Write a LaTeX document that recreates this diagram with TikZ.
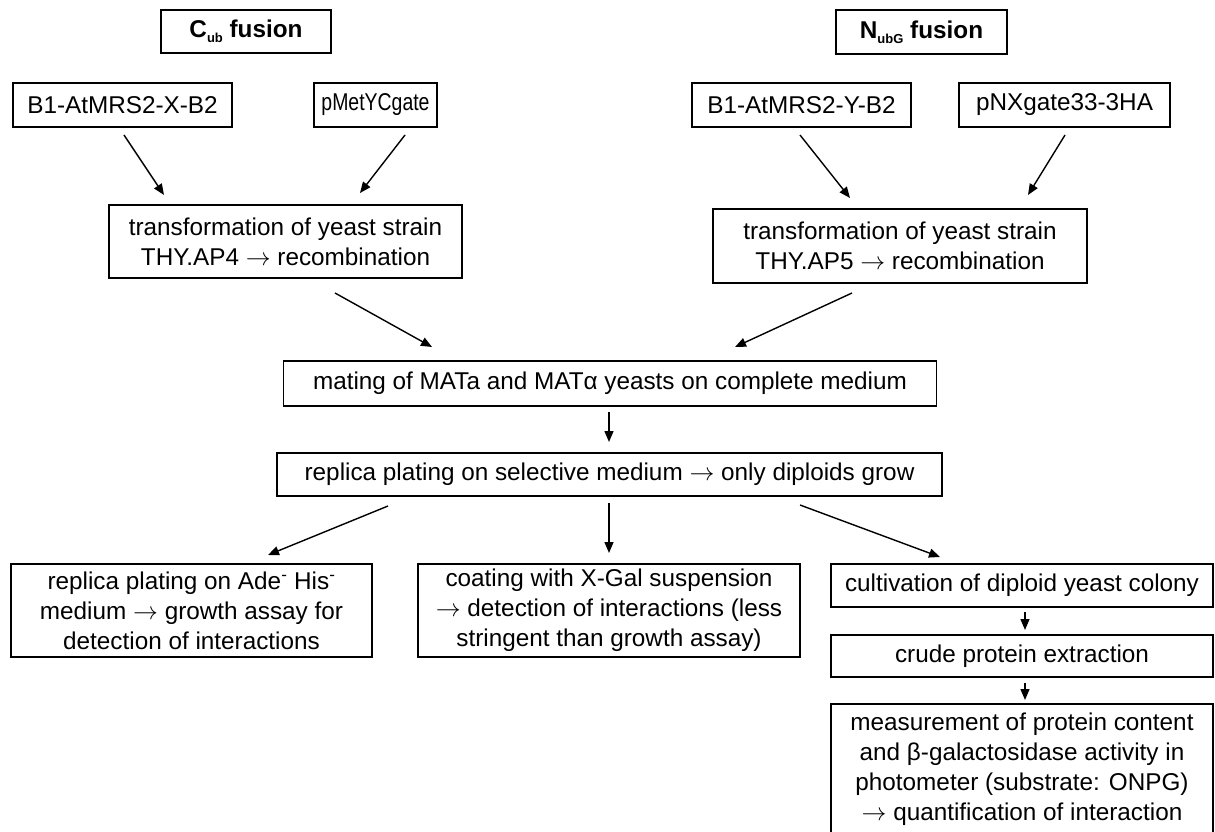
\documentclass[tikz,border=0pt]{standalone}
\usepackage{fontspec}
\setmainfont{Liberation Sans}
\usetikzlibrary{arrows.meta,calc}
\newcommand{\ra}{\ensuremath{\rightarrow}}
\begin{document}
\begin{tikzpicture}[x=1pt,y=-1pt,
  box/.style={draw=black,line width=1.2pt,fill=white,inner sep=0pt,outer sep=0pt,align=center,
    font=\fontsize{24.3}{30}\selectfont},
  arr/.style={line width=1.4pt,-{Triangle[length=11pt,width=9pt]}}]
\useasboundingbox (0,0) rectangle (1215,832);
\fill[white] (0,0) rectangle (1215,832);
% title boxes
\node[box,minimum width=170pt,minimum height=43pt] (cub) at (246,31.5)
  {\textbf{C\raisebox{-5pt}{\fontsize{13}{13}\selectfont\bfseries ub} fusion}};
\node[box,minimum width=171pt,minimum height=44pt] (nub) at (921.5,32)
  {\textbf{N\raisebox{-5pt}{\fontsize{13}{13}\selectfont\bfseries ubG} fusion}};
% inputs
\node[box,minimum width=219pt,minimum height=44pt] (b1x) at (122.5,105) {B1-AtMRS2-X-B2};
\node[box,minimum width=123pt,minimum height=44pt] (pmet) at (375.5,105) {\scalebox{0.8}[1]{pMetYCgate}};
\node[box,minimum width=219pt,minimum height=44pt] (b1y) at (801.5,105) {B1-AtMRS2-Y-B2};
\node[box,minimum width=211pt,minimum height=44pt] (pnx) at (1064.5,105) {pNXgate33-3HA};
% transformations
\node[box,minimum width=353pt,minimum height=73pt] (tl) at (285.5,241.5)
  {transformation of yeast strain\\THY.AP4 \ra{} recombination};
\node[box,minimum width=374pt,minimum height=74pt] (tr) at (900,246)
  {transformation of yeast strain\\THY.AP5 \ra{} recombination};
% mating and replica
\node[box,minimum width=653pt,minimum height=45pt] (mat) at (610,383.5)
  {mating of MATa and MATα yeasts on complete medium};
\node[box,minimum width=665pt,minimum height=43pt] (rep) at (609.5,474.5)
  {replica plating on selective medium \ra{} only diploids grow};
% bottom row
\node[box,minimum width=361pt,minimum height=93pt] (bl) at (191.5,610.5)
  {replica plating on Ade\textsuperscript{-} His\textsuperscript{-}\\medium \ra{} growth assay for\\detection of interactions};
\node[box,minimum width=382pt,minimum height=93pt] (bm) at (609,610.5)
  {coating with X-Gal suspension\\\ra{} detection of interactions (less\\stringent than growth assay)};
\node[box,minimum width=382pt,minimum height=43pt] (cul) at (1022,585.5)
  {cultivation of diploid yeast colony};
\node[box,minimum width=382pt,minimum height=42pt] (cru) at (1022,656)
  {crude protein extraction};
\node[box,minimum width=382pt,minimum height=130pt] (mea) at (1022,769)
  {measurement of protein content\\and β-galactosidase activity in\\photometer (substrate: ONPG)\\\ra{} quantification of interaction};
% arrows
\draw[arr] ($(b1x.south)+(1.5,8)$) -- ($(tl.north)+(-121.5,-10)$);
\draw[arr] ($(pmet.south)+(29.5,8)$) -- ($(tl.north)+(74.5,-12)$);
\draw[arr] ($(b1y.south)+(-1.5,8)$) -- ($(tr.north)+(-50,-11)$);
\draw[arr] ($(pnx.south)+(0.5,8)$) -- ($(tr.north)+(128,-14)$);
\draw[arr] ($(tl.south)+(49.5,15)$) -- ($(mat.north)+(-178,-14)$);
\draw[arr] ($(tr.south)+(-48,10)$) -- ($(mat.north)+(125,-14)$);
\draw[arr] ($(mat.south)+(-1,6)$) -- ($(rep.north)+(-0.5,-11)$);
\draw[arr] ($(rep.south)+(-221.5,10)$) -- ($(bl.north)+(76.5,-9)$);
\draw[arr] ($(rep.south)+(-0.5,7)$) -- ($(bm.north)+(0,-11)$);
\draw[arr] ($(rep.south)+(190.5,9)$) -- ($(cul.north)+(-82,-7)$);
\draw[arr] ($(cul.south)+(3,5)$) -- ($(cru.north)+(3,-5)$);
\draw[arr] ($(cru.south)+(3,6)$) -- ($(mea.north)+(3,-4)$);
\end{tikzpicture}
\end{document}
